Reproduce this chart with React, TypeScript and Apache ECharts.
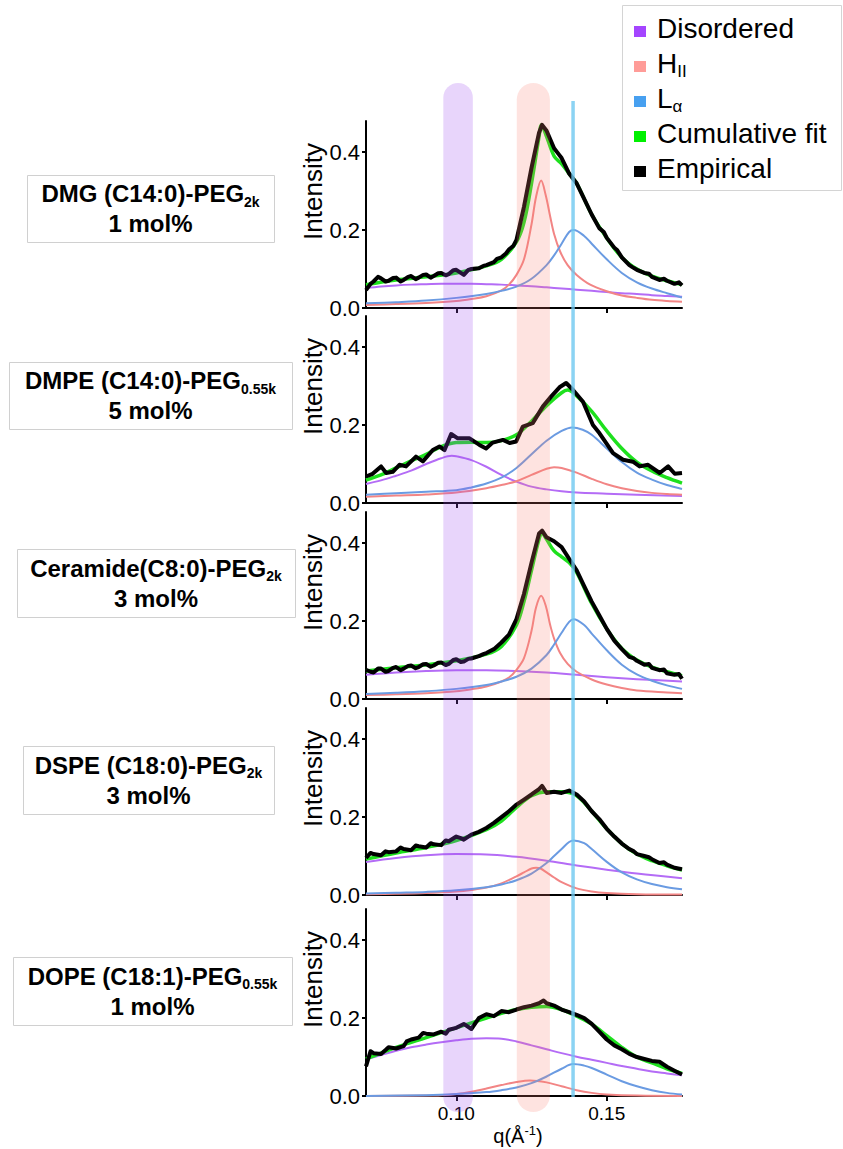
import React, { useEffect, useRef } from "react";
import * as echarts from "echarts";

// ---------------- DATA ----------------
const qMin = 0.07;
const qMax = 0.175;
const yMax = 0.48;
const xTicks = [0.1, 0.15];
const yTicks = [0, 0.2, 0.4];

const lipidNames = ["DMG (C14:0)-PEG", "DMPE (C14:0)-PEG", "Ceramide(C8:0)-PEG", "DSPE (C18:0)-PEG", "DOPE (C18:1)-PEG"];
const pegSubs = ["2k", "0.55k", "2k", "2k", "0.55k"];
const molPct = ["1 mol%", "5 mol%", "3 mol%", "3 mol%", "1 mol%"];

const legendNames = ["Disordered", "H|II", "L|α", "Cumulative fit", "Empirical"];

const disorderedBand = [0.0957, 0.1055];
const hiiBand = [0.1201, 0.1311];
const lalphaPos = 0.1388;

// Panel 1: DMG
const dmgDis = [[0.07,0.051],[0.075,0.055],[0.08,0.058],[0.085,0.06],[0.09,0.061],[0.095,0.062],[0.1,0.062],[0.105,0.062],[0.11,0.061],[0.115,0.06],[0.12,0.058],[0.125,0.056],[0.13,0.053],[0.135,0.05],[0.14,0.047],[0.145,0.044],[0.15,0.041],[0.155,0.038],[0.16,0.036],[0.165,0.033],[0.17,0.031],[0.175,0.029]];
const dmgHii = [[0.07,0.008],[0.08,0.01],[0.09,0.013],[0.1,0.018],[0.105,0.023],[0.11,0.03],[0.115,0.045],[0.1175,0.06],[0.12,0.085],[0.1225,0.125],[0.125,0.215],[0.1265,0.285],[0.1282,0.327],[0.1297,0.29],[0.1312,0.235],[0.1325,0.19],[0.1345,0.145],[0.137,0.11],[0.14,0.085],[0.1445,0.06],[0.15,0.043],[0.155,0.032],[0.16,0.026],[0.165,0.021],[0.17,0.018],[0.175,0.016]];
const dmgLa = [[0.07,0.012],[0.08,0.015],[0.09,0.019],[0.1,0.026],[0.11,0.036],[0.115,0.044],[0.12,0.055],[0.125,0.075],[0.13,0.11],[0.1325,0.135],[0.135,0.165],[0.1375,0.195],[0.139,0.2],[0.1425,0.185],[0.145,0.165],[0.15,0.125],[0.155,0.09],[0.16,0.066],[0.165,0.05],[0.17,0.038],[0.175,0.027]];
const dmgFit = [[0.07,0.06],[0.08,0.072],[0.09,0.08],[0.1,0.09],[0.11,0.108],[0.115,0.125],[0.12,0.17],[0.1225,0.22],[0.125,0.32],[0.1275,0.44],[0.1283,0.47],[0.13,0.44],[0.1325,0.39],[0.135,0.37],[0.1375,0.345],[0.14,0.32],[0.145,0.24],[0.15,0.18],[0.155,0.13],[0.16,0.1],[0.165,0.082],[0.17,0.07],[0.175,0.06]];
const dmgEmp = [[0.07,0.046],[0.0715,0.062],[0.0725,0.068],[0.074,0.08],[0.075,0.076],[0.0765,0.068],[0.0775,0.07],[0.079,0.077],[0.08,0.078],[0.0815,0.068],[0.0825,0.072],[0.084,0.08],[0.085,0.082],[0.0865,0.074],[0.0875,0.078],[0.089,0.085],[0.09,0.086],[0.0915,0.078],[0.0925,0.082],[0.094,0.089],[0.095,0.09],[0.0965,0.084],[0.0975,0.087],[0.099,0.097],[0.1,0.098],[0.1015,0.09],[0.1025,0.085],[0.104,0.098],[0.105,0.1],[0.1075,0.102],[0.109,0.108],[0.11,0.11],[0.1125,0.118],[0.1135,0.126],[0.115,0.13],[0.1165,0.14],[0.1175,0.15],[0.119,0.16],[0.12,0.175],[0.1225,0.26],[0.125,0.36],[0.1275,0.45],[0.1285,0.47],[0.13,0.455],[0.1325,0.41],[0.134,0.395],[0.135,0.385],[0.1375,0.345],[0.139,0.33],[0.14,0.32],[0.1425,0.28],[0.145,0.24],[0.1475,0.205],[0.149,0.195],[0.15,0.18],[0.1525,0.155],[0.1535,0.148],[0.155,0.13],[0.1575,0.11],[0.1585,0.105],[0.16,0.098],[0.1625,0.09],[0.164,0.088],[0.165,0.08],[0.1675,0.072],[0.169,0.075],[0.17,0.07],[0.1725,0.062],[0.174,0.066],[0.175,0.058]];

// Panel 2: DMPE
const dmpeDis = [[0.07,0.049],[0.075,0.058],[0.08,0.07],[0.085,0.083],[0.09,0.1],[0.095,0.115],[0.0985,0.121],[0.1,0.12],[0.105,0.11],[0.11,0.093],[0.115,0.072],[0.12,0.055],[0.125,0.042],[0.13,0.035],[0.135,0.03],[0.14,0.027],[0.15,0.024],[0.16,0.021],[0.175,0.018]];
const dmpeHii = [[0.07,0.016],[0.08,0.019],[0.09,0.022],[0.1,0.027],[0.11,0.038],[0.115,0.046],[0.12,0.056],[0.125,0.072],[0.13,0.088],[0.1325,0.092],[0.135,0.09],[0.14,0.078],[0.145,0.062],[0.15,0.048],[0.155,0.038],[0.16,0.031],[0.165,0.026],[0.17,0.023],[0.175,0.021]];
const dmpeLa = [[0.07,0.021],[0.08,0.025],[0.09,0.029],[0.1,0.033],[0.105,0.04],[0.11,0.05],[0.115,0.065],[0.12,0.09],[0.125,0.125],[0.13,0.16],[0.135,0.185],[0.1385,0.194],[0.142,0.188],[0.145,0.175],[0.15,0.14],[0.155,0.105],[0.16,0.078],[0.165,0.06],[0.17,0.046],[0.175,0.036]];
const dmpeFit = [[0.07,0.059],[0.075,0.072],[0.08,0.09],[0.085,0.108],[0.09,0.125],[0.095,0.145],[0.1,0.155],[0.105,0.156],[0.11,0.155],[0.115,0.16],[0.12,0.175],[0.125,0.21],[0.13,0.25],[0.135,0.283],[0.137,0.29],[0.14,0.275],[0.145,0.235],[0.15,0.185],[0.155,0.14],[0.16,0.105],[0.165,0.082],[0.17,0.065],[0.175,0.051]];
const dmpeEmp = [[0.07,0.068],[0.0722,0.075],[0.075,0.094],[0.0767,0.077],[0.0789,0.08],[0.0811,0.098],[0.0833,0.094],[0.0866,0.119],[0.0889,0.107],[0.0922,0.136],[0.0944,0.145],[0.0961,0.136],[0.0983,0.177],[0.1005,0.166],[0.1044,0.166],[0.1077,0.149],[0.1099,0.14],[0.1121,0.155],[0.1155,0.162],[0.1177,0.154],[0.1199,0.158],[0.1221,0.196],[0.1254,0.205],[0.1288,0.248],[0.1315,0.273],[0.1343,0.297],[0.1365,0.308],[0.1388,0.29],[0.1421,0.26],[0.1454,0.2],[0.1476,0.179],[0.1521,0.128],[0.1554,0.111],[0.1587,0.106],[0.1609,0.094],[0.1637,0.098],[0.1676,0.077],[0.1704,0.094],[0.1726,0.075],[0.175,0.077]];

// Panel 3: Ceramide
const cerDis = [[0.07,0.062],[0.08,0.068],[0.09,0.072],[0.1,0.074],[0.11,0.074],[0.12,0.072],[0.13,0.068],[0.14,0.062],[0.15,0.056],[0.16,0.051],[0.175,0.045]];
const cerHii = [[0.07,0.01],[0.08,0.012],[0.09,0.015],[0.1,0.02],[0.105,0.025],[0.11,0.032],[0.115,0.045],[0.1175,0.055],[0.12,0.075],[0.1225,0.105],[0.125,0.175],[0.1265,0.235],[0.1282,0.265],[0.1297,0.24],[0.1312,0.19],[0.1325,0.155],[0.1345,0.118],[0.137,0.09],[0.14,0.07],[0.145,0.05],[0.15,0.037],[0.155,0.028],[0.16,0.022],[0.17,0.017],[0.175,0.015]];
const cerLa = [[0.07,0.013],[0.08,0.016],[0.09,0.02],[0.1,0.026],[0.11,0.036],[0.115,0.045],[0.12,0.057],[0.125,0.078],[0.13,0.113],[0.1325,0.14],[0.135,0.17],[0.1375,0.198],[0.139,0.205],[0.1425,0.19],[0.145,0.168],[0.15,0.125],[0.155,0.088],[0.16,0.063],[0.165,0.047],[0.17,0.035],[0.175,0.026]];
const cerFit = [[0.07,0.072],[0.08,0.08],[0.09,0.088],[0.1,0.098],[0.11,0.115],[0.115,0.135],[0.12,0.19],[0.1225,0.25],[0.125,0.33],[0.1275,0.41],[0.1285,0.425],[0.13,0.41],[0.1325,0.38],[0.135,0.365],[0.1375,0.35],[0.14,0.325],[0.145,0.245],[0.15,0.18],[0.155,0.13],[0.16,0.1],[0.165,0.082],[0.17,0.07],[0.175,0.06]];
const cerEmp = [[0.07,0.075],[0.0715,0.07],[0.0725,0.068],[0.074,0.078],[0.075,0.078],[0.0765,0.07],[0.0775,0.072],[0.079,0.08],[0.08,0.082],[0.0815,0.074],[0.0825,0.078],[0.084,0.085],[0.085,0.086],[0.0865,0.079],[0.0875,0.082],[0.089,0.089],[0.09,0.09],[0.0915,0.083],[0.0925,0.086],[0.094,0.093],[0.095,0.094],[0.0965,0.087],[0.0975,0.09],[0.099,0.1],[0.1,0.102],[0.1015,0.095],[0.1025,0.096],[0.104,0.103],[0.105,0.104],[0.1075,0.11],[0.109,0.115],[0.11,0.118],[0.1125,0.128],[0.115,0.145],[0.1175,0.165],[0.12,0.205],[0.1225,0.27],[0.125,0.35],[0.1275,0.425],[0.1285,0.432],[0.13,0.415],[0.1325,0.405],[0.135,0.39],[0.1375,0.36],[0.14,0.33],[0.1425,0.29],[0.145,0.25],[0.1475,0.215],[0.15,0.18],[0.1525,0.15],[0.155,0.128],[0.1575,0.108],[0.159,0.104],[0.16,0.098],[0.1625,0.088],[0.164,0.09],[0.165,0.08],[0.1675,0.074],[0.169,0.076],[0.17,0.066],[0.1725,0.062],[0.174,0.064],[0.175,0.052]];

// Panel 4: DSPE
const dspeDis = [[0.07,0.085],[0.08,0.095],[0.09,0.102],[0.1,0.105],[0.11,0.104],[0.12,0.098],[0.13,0.088],[0.14,0.076],[0.15,0.065],[0.16,0.055],[0.175,0.043]];
const dspeHii = [[0.07,0.002],[0.08,0.003],[0.09,0.005],[0.1,0.009],[0.105,0.013],[0.11,0.019],[0.115,0.03],[0.12,0.048],[0.1225,0.058],[0.125,0.068],[0.1265,0.07],[0.128,0.068],[0.13,0.058],[0.1325,0.045],[0.135,0.033],[0.14,0.017],[0.145,0.009],[0.15,0.005],[0.16,0.002],[0.175,0.001]];
const dspeLa = [[0.07,0.004],[0.08,0.006],[0.09,0.008],[0.1,0.012],[0.11,0.02],[0.115,0.027],[0.12,0.038],[0.125,0.055],[0.13,0.082],[0.1325,0.1],[0.135,0.118],[0.1375,0.136],[0.139,0.14],[0.1425,0.133],[0.145,0.118],[0.15,0.085],[0.155,0.058],[0.16,0.04],[0.165,0.028],[0.17,0.02],[0.175,0.015]];
const dspeFit = [[0.07,0.092],[0.08,0.108],[0.09,0.122],[0.1,0.14],[0.11,0.168],[0.115,0.19],[0.12,0.225],[0.125,0.255],[0.13,0.265],[0.135,0.265],[0.14,0.255],[0.145,0.215],[0.15,0.17],[0.155,0.132],[0.16,0.105],[0.165,0.088],[0.17,0.075],[0.175,0.064]];
const dspeEmp = [[0.07,0.095],[0.0715,0.108],[0.0725,0.105],[0.075,0.102],[0.0765,0.112],[0.0775,0.11],[0.08,0.112],[0.0815,0.122],[0.0825,0.118],[0.085,0.115],[0.0865,0.127],[0.0875,0.125],[0.09,0.122],[0.0915,0.133],[0.0925,0.13],[0.095,0.128],[0.0965,0.14],[0.0975,0.138],[0.1,0.15],[0.1015,0.146],[0.1025,0.142],[0.105,0.155],[0.1075,0.162],[0.11,0.172],[0.1125,0.185],[0.115,0.2],[0.1175,0.215],[0.12,0.232],[0.1225,0.245],[0.125,0.258],[0.1275,0.272],[0.1285,0.28],[0.13,0.262],[0.1325,0.265],[0.135,0.262],[0.1375,0.268],[0.14,0.258],[0.1425,0.24],[0.145,0.215],[0.1475,0.195],[0.15,0.17],[0.1525,0.15],[0.155,0.132],[0.1575,0.118],[0.159,0.112],[0.16,0.105],[0.1625,0.1],[0.164,0.097],[0.165,0.092],[0.1675,0.082],[0.169,0.084],[0.17,0.078],[0.1725,0.07],[0.175,0.066]];

// Panel 5: DOPE
const dopeDis = [[0.07,0.094],[0.075,0.105],[0.08,0.116],[0.085,0.125],[0.09,0.132],[0.095,0.138],[0.1,0.143],[0.105,0.147],[0.11,0.148],[0.115,0.147],[0.12,0.14],[0.125,0.13],[0.13,0.12],[0.135,0.11],[0.14,0.101],[0.145,0.093],[0.15,0.085],[0.155,0.077],[0.16,0.07],[0.165,0.063],[0.17,0.058],[0.175,0.053]];
const dopeHii = [[0.07,0],[0.09,0.001],[0.095,0.002],[0.1,0.005],[0.105,0.011],[0.11,0.019],[0.115,0.028],[0.12,0.036],[0.1245,0.04],[0.13,0.035],[0.135,0.025],[0.14,0.015],[0.145,0.008],[0.15,0.004],[0.16,0.001],[0.175,0]];
const dopeLa = [[0.07,0],[0.09,0.002],[0.1,0.005],[0.11,0.01],[0.115,0.015],[0.12,0.022],[0.125,0.033],[0.13,0.05],[0.135,0.07],[0.1388,0.082],[0.1425,0.078],[0.145,0.072],[0.15,0.055],[0.155,0.038],[0.16,0.025],[0.165,0.015],[0.17,0.008],[0.175,0.004]];
const dopeFit = [[0.07,0.095],[0.08,0.125],[0.09,0.15],[0.1,0.175],[0.11,0.2],[0.115,0.212],[0.12,0.222],[0.125,0.228],[0.13,0.23],[0.135,0.222],[0.14,0.205],[0.145,0.185],[0.15,0.155],[0.155,0.125],[0.16,0.1],[0.165,0.085],[0.17,0.07],[0.175,0.058]];
const dopeEmp = [[0.07,0.076],[0.0715,0.115],[0.0725,0.11],[0.075,0.108],[0.0765,0.118],[0.0775,0.125],[0.08,0.122],[0.0825,0.128],[0.0835,0.14],[0.085,0.145],[0.0875,0.15],[0.089,0.162],[0.09,0.16],[0.0925,0.158],[0.095,0.165],[0.0965,0.16],[0.0975,0.17],[0.1,0.175],[0.1025,0.185],[0.105,0.172],[0.1075,0.2],[0.11,0.21],[0.1125,0.205],[0.115,0.218],[0.1175,0.215],[0.12,0.222],[0.1225,0.228],[0.125,0.232],[0.1275,0.238],[0.129,0.245],[0.13,0.238],[0.1325,0.232],[0.135,0.222],[0.1375,0.215],[0.14,0.208],[0.1425,0.2],[0.145,0.185],[0.1475,0.165],[0.15,0.145],[0.1525,0.13],[0.155,0.12],[0.1575,0.108],[0.16,0.1],[0.1625,0.095],[0.165,0.09],[0.1675,0.088],[0.17,0.075],[0.1725,0.065],[0.175,0.055]];

const panelData = [
  [dmgDis, dmgHii, dmgLa, dmgFit, dmgEmp],
  [dmpeDis, dmpeHii, dmpeLa, dmpeFit, dmpeEmp],
  [cerDis, cerHii, cerLa, cerFit, cerEmp],
  [dspeDis, dspeHii, dspeLa, dspeFit, dspeEmp],
  [dopeDis, dopeHii, dopeLa, dopeFit, dopeEmp],
];

// ---------------- LAYOUT / STYLE ----------------
const W = 843;
const H = 1149;
const FONT = "'Liberation Sans', Arial, Helvetica, sans-serif";
const plotLeft = 366;
const plotWidth = 316;
const plotHeight = 187;
const baselines = [308, 503, 699, 895, 1096];
const labelBoxes = [
  [27, 175, 247, 67],
  [9, 362, 283, 67],
  [17, 549, 278, 68],
  [23, 746, 251, 68],
  [13, 957, 279, 68],
];
const lineColors = ["#B46CF6", "#F28585", "#6A9BE2", "#1EE01E", "#000000"];
const lineWidths = [2, 2, 2, 3.5, 4];
const legendColors = ["#A445FF", "#FF9C98", "#47A0F0", "#00F000", "#000000"];

export default function App() {
  const ref = useRef<HTMLDivElement>(null);

  useEffect(() => {
    document.body.style.margin = "0";
    const chart = echarts.init(ref.current!, null, { renderer: "svg" });

    const grid: any[] = [];
    const xAxis: any[] = [];
    const yAxis: any[] = [];
    const series: any[] = [];

    panelData.forEach((curves, i) => {
      grid.push({ left: plotLeft, top: baselines[i] - plotHeight, width: plotWidth, height: plotHeight });
      const last = i === panelData.length - 1;
      xAxis.push({
        type: "value",
        gridIndex: i,
        min: qMin,
        max: qMax,
        axisLine: { onZero: false, lineStyle: { color: "#000", width: 2 } },
        axisTick: { show: true, length: 5, customValues: xTicks, lineStyle: { color: "#000", width: 2 } },
        axisLabel: {
          show: last,
          customValues: xTicks,
          formatter: (v: number) => v.toFixed(2),
          fontSize: 19,
          color: "#000",
          fontFamily: FONT,
          margin: 8,
        },
        splitLine: { show: false },
        name: last ? "{a|q(Å}{b|-1}{a|)}" : "",
        nameLocation: "middle",
        nameGap: 27,
        nameTextStyle: {
          padding: [0, 12, 0, 0],
          rich: {
            a: { fontSize: 20, fontFamily: FONT, color: "#000", lineHeight: 24 },
            b: { fontSize: 13, fontFamily: FONT, color: "#000", lineHeight: 24, verticalAlign: "top", padding: [0, 0, 10, 0] },
          },
        },
      });
      yAxis.push({
        type: "value",
        gridIndex: i,
        min: 0,
        max: yMax,
        axisLine: { show: true, lineStyle: { color: "#000", width: 2 } },
        axisTick: { show: true, length: 4, customValues: yTicks, lineStyle: { color: "#000", width: 2 } },
        axisLabel: {
          customValues: yTicks,
          formatter: (v: number) => v.toFixed(1),
          fontSize: 22,
          color: "#000",
          fontFamily: FONT,
          margin: 6,
        },
        splitLine: { show: false },
        name: "Intensity",
        nameLocation: "middle",
        nameRotate: 90,
        nameGap: 38,
        nameTextStyle: { fontSize: 26, color: "#000", fontFamily: FONT, padding: [0, 0, 0, 46] },
      });
      curves.forEach((d, k) => {
        series.push({
          type: "line",
          xAxisIndex: i,
          yAxisIndex: i,
          data: d,
          showSymbol: false,
          smooth: k === 4 ? false : 0.35,
          lineStyle: { color: lineColors[k], width: lineWidths[k], join: "round" },
          itemStyle: { color: lineColors[k] },
          z: 2 + k,
          silent: true,
        });
      });
    });

    chart.setOption({ animation: false, grid, xAxis, yAxis, series });

    // overlays (bands, markers, legend, labels)
    const px = (q: number) => chart.convertToPixel({ xAxisIndex: 0 }, q) as number;
    const graphic: any[] = [];
    const bandTop = 83;
    const bandBottom = 1112;
    const addBand = (range: number[], fill: string) => {
      const x0 = px(range[0]);
      const x1 = px(range[1]);
      const w = x1 - x0;
      graphic.push({
        type: "rect",
        z: 100,
        silent: true,
        shape: { x: x0, y: bandTop, width: w, height: bandBottom - bandTop, r: w / 2 },
        style: { fill },
      });
    };
    addBand(disorderedBand, "rgba(160, 80, 240, 0.24)");
    addBand(hiiBand, "rgba(250, 128, 114, 0.22)");
    const lx = px(lalphaPos);
    graphic.push({
      type: "line",
      z: 101,
      silent: true,
      shape: { x1: lx, y1: 101, x2: lx, y2: 1097 },
      style: { stroke: "rgba(110, 200, 240, 0.8)", lineWidth: 3.5 },
    });

    // legend
    graphic.push({
      type: "rect",
      z: 110,
      shape: { x: 622.5, y: 5.5, width: 219, height: 185 },
      style: { fill: "#fff", stroke: "#d4d4d4", lineWidth: 1 },
    });
    legendNames.forEach((name, k) => {
      const cy = 27 + k * 35;
      graphic.push({
        type: "rect",
        z: 111,
        shape: { x: 634, y: cy - 1, width: 12, height: 11 },
        style: { fill: legendColors[k] },
      });
      const parts = name.split("|");
      const text = parts.length > 1 ? `{m|${parts[0]}}{s|${parts[1]}}` : `{m|${parts[0]}}`;
      graphic.push({
        type: "text",
        z: 111,
        x: 657,
        y: cy + 1,
        style: {
          text,
          textAlign: "left",
          textVerticalAlign: "middle",
          rich: {
            m: { fontSize: 28, fontFamily: FONT, fill: "#000", lineHeight: 34 },
            s: { fontSize: 17, fontFamily: FONT, fill: "#000", lineHeight: 12, verticalAlign: "bottom" },
          },
        },
      });
    });

    // panel label boxes
    labelBoxes.forEach((b, i) => {
      graphic.push({
        type: "rect",
        z: 110,
        shape: { x: b[0] + 0.5, y: b[1] + 0.5, width: b[2], height: b[3] },
        style: { fill: "#fff", stroke: "#d0d0d0", lineWidth: 1 },
      });
      graphic.push({
        type: "text",
        z: 111,
        x: b[0] + b[2] / 2,
        y: b[1] + b[3] / 2,
        style: {
          text: `{b|${lipidNames[i]}}{s|${pegSubs[i]}}\n{b|${molPct[i]}}`,
          textAlign: "center",
          textVerticalAlign: "middle",
          rich: {
            b: { fontSize: 24, fontWeight: "bold", fontFamily: FONT, fill: "#000", lineHeight: 30 },
            s: { fontSize: 14, fontWeight: "bold", fontFamily: FONT, fill: "#000", lineHeight: 10, verticalAlign: "bottom" },
          },
        },
      });
    });

    chart.setOption({ graphic });

    return () => chart.dispose();
  }, []);

  return <div ref={ref} style={{ width: W, height: H, background: "#fff" }} />;
}
